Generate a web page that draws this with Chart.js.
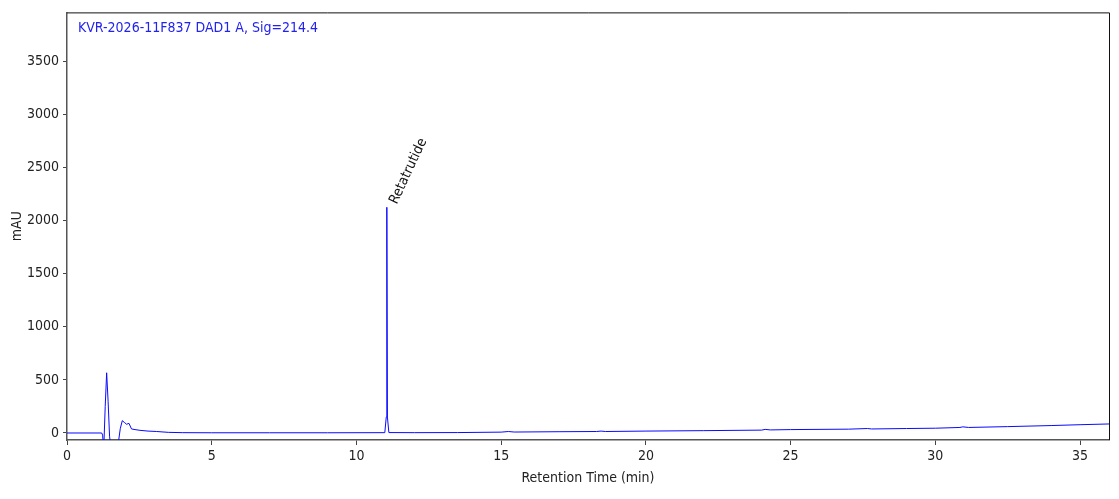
<!DOCTYPE html>
<html>
<head>
<meta charset="utf-8">
<script src="https://cdn.jsdelivr.net/npm/chart.js@4.4.1/dist/chart.umd.min.js"></script>
<style>
  body { margin: 0; background: #fff; }
  #wrap { width: 1119px; height: 499px; }
</style>
</head>
<body>
<div id="wrap"><canvas id="chromatogram"></canvas></div>
<script>
// retention time (min) and absorbance (mAU)
const tempos = [0, 1.2, 1.23, 1.27, 1.32, 1.37, 1.42, 1.47, 1.52, 1.65, 1.78, 1.84, 1.91, 1.98, 2.06, 2.14, 2.23, 2.35, 2.52, 2.8, 3.1, 3.5, 4.0, 5.0, 7.0, 9.0, 10.98, 11.03, 11.05, 11.07, 11.12, 12.0, 13.5, 15.0, 15.25, 15.45, 17.0, 18.3, 18.45, 18.6, 20.0, 22.0, 24.0, 24.12, 24.3, 25.0, 27.0, 27.65, 27.8, 29.0, 30.0, 30.85, 30.95, 31.15, 32.5, 34.0, 35.0, 36.0];
const sinal  = [0, 0, -20, -150, 250, 567, 300, -30, -150, -200, -80, 40, 116, 100, 82, 91, 38, 32, 25, 18, 14, 6, 3, 2, 2, 2, 3, 150, 2125, 150, 4, 3, 4, 8, 14, 9, 12, 14, 18, 14, 18, 22, 27, 34, 29, 32, 36, 42, 38, 42, 45, 52, 58, 52, 60, 70, 78, 85];

const xTicks = [0, 5, 10, 15, 20, 25, 30, 35];
const yTicks = [0, 500, 1000, 1500, 2000, 2500, 3000, 3500];

const tituloSinal = 'KVR-2026-11F837 DAD1 A, Sig=214.4';
const picos = [{ nome: 'Retatrutide', tempo: 11.05, altura: 2125 }];

const fonte = '"DejaVu Sans Condensed", "DejaVu Sans", sans-serif';

const pontos = tempos.map((t, i) => ({ x: t, y: sinal[i] }));

// moldura + texto do sinal + nomes dos picos
const extras = {
  id: 'extras',
  afterDraw(chart) {
    const c = chart.ctx;
    const a = chart.chartArea;
    const sx = chart.scales.x, sy = chart.scales.y;
    c.save();
    c.strokeStyle = '#111';
    c.lineWidth = 1;
    c.beginPath();
    c.moveTo(a.left, a.top + 0.5);
    c.lineTo(a.right + 0.5, a.top + 0.5);
    c.lineTo(a.right + 0.5, a.bottom);
    c.stroke();

    c.fillStyle = '#2222ee';
    c.font = '14px ' + fonte;
    c.textAlign = 'left';
    c.textBaseline = 'top';
    c.fillText(tituloSinal, a.left + 11, a.top + 9);

    c.fillStyle = '#111';
    c.font = '14px ' + fonte;
    picos.forEach(p => {
      const px = sx.getPixelForValue(p.tempo);
      const py = sy.getPixelForValue(p.altura);
      c.save();
      c.translate(px + 13, py - 1);
      c.rotate(-65 * Math.PI / 180);
      c.textBaseline = 'bottom';
      c.fillText(p.nome, 0, 0);
      c.restore();
    });
    c.restore();
  }
};

const ctx = document.getElementById('chromatogram');
const grafico = new Chart(ctx, {
  type: 'line',
  data: {
    datasets: [{
      data: pontos,
      borderColor: '#0a0aff',
      borderWidth: 1,
      pointRadius: 0,
      tension: 0,
      fill: false
    }]
  },
  options: {
    responsive: true,
    maintainAspectRatio: false,
    animation: false,
    layout: { padding: { top: 12, right: 10, left: 0, bottom: 0 } },
    plugins: { legend: { display: false }, tooltip: { enabled: false } },
    scales: {
      x: {
        type: 'linear',
        min: 0,
        max: 36,
        afterBuildTicks: s => { s.ticks = xTicks.map(v => ({ value: v })) },
        afterFit: s => { s.height = 59 },
        ticks: { color: '#222', font: { family: fonte, size: 14 }, padding: 3, maxRotation: 0, callback: v => String(v) },
        grid: { drawOnChartArea: false, drawTicks: true, tickLength: 5, color: '#444' },
        border: { display: true, color: '#555', width: 1.5 },
        title: { display: true, text: 'Retention Time (min)', color: '#222', font: { family: fonte, size: 14 }, padding: { top: 2, bottom: 12 } }
      },
      y: {
        min: -66,
        max: 3960,
        afterBuildTicks: s => { s.ticks = yTicks.map(v => ({ value: v })) },
        afterFit: s => { s.width = 67 },
        ticks: { color: '#222', font: { family: fonte, size: 14 }, padding: 4, callback: v => String(v) },
        grid: { drawOnChartArea: false, drawTicks: true, tickLength: 4, color: '#444' },
        border: { display: true, color: '#555', width: 1.5 },
        title: { display: true, text: 'mAU', color: '#222', font: { family: fonte, size: 14 }, padding: { top: 9, bottom: 0 } }
      }
    }
  },
  plugins: [extras]
});
</script>
</body>
</html>
